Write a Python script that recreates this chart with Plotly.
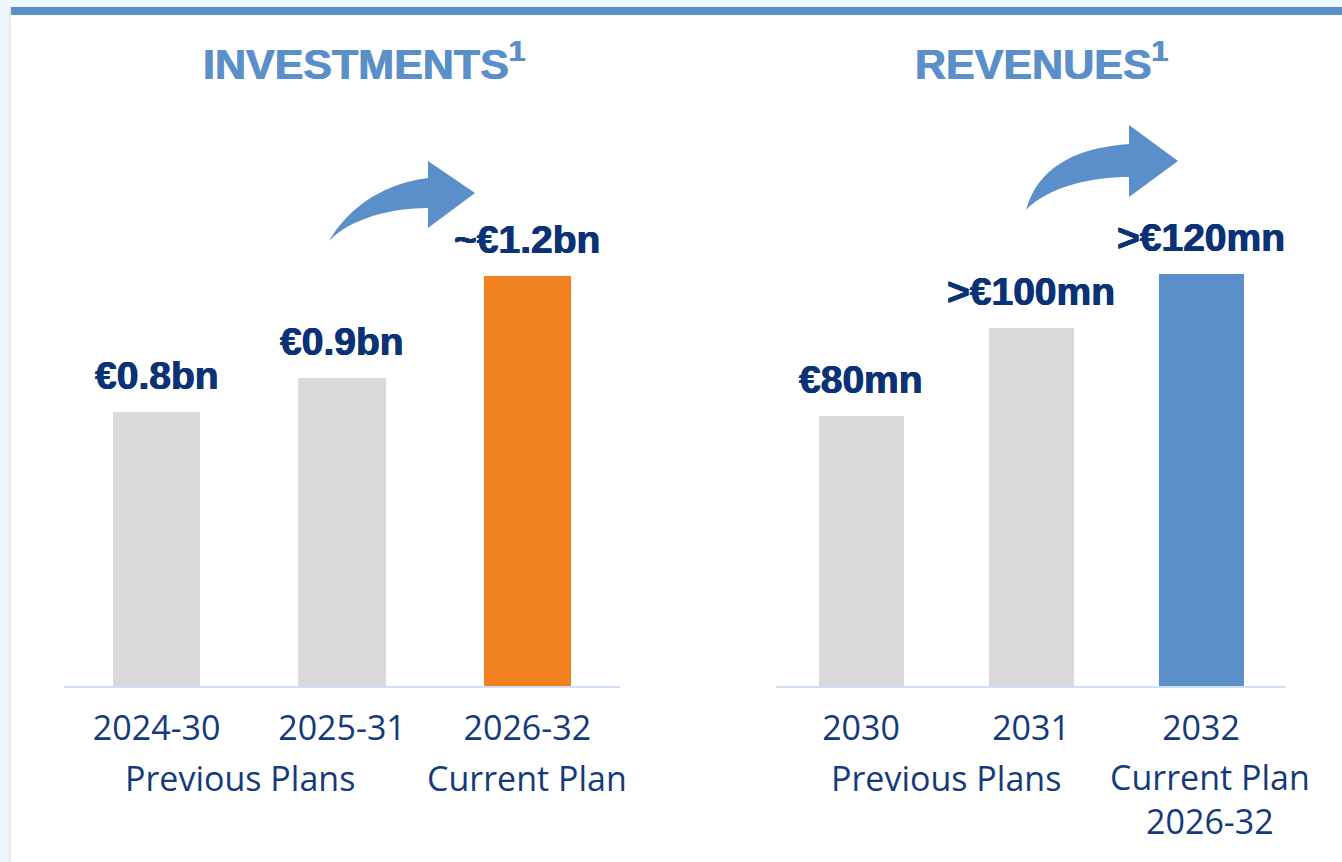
import plotly.graph_objects as go

# ---------------- data ----------------
inv_categories = ["2024-30", "2025-31", "2026-32"]
inv_values = [0.8, 0.9, 1.2]            # € bn
inv_labels = ["€0.8bn", "€0.9bn", "~€1.2bn"]
inv_colors = ["#D9D9D9", "#D9D9D9", "#F28220"]

rev_categories = ["2030", "2031", "2032"]
rev_values = [80, 106, 122]             # € mn (bar heights as drawn)
rev_labels = ["€80mn", ">€100mn", ">€120mn"]
rev_colors = ["#D9D9D9", "#D9D9D9", "#5B8FC9"]

inv_groups = ["Previous Plans", "Current Plan"]
rev_groups = ["Previous Plans", "Current Plan<br>2026-32"]

titles = ["INVESTMENTS", "REVENUES"]

# ---------------- layout helpers ----------------
W, H = 1342, 862
def px(x):
    return x / W
def py(y):
    return 1 - y / H

NAVY = "#0B3275"
CAT = "#143A7B"
BLUE = "#5B8FC9"
VALFONT = dict(family="Liberation Sans, Arial, sans-serif", size=39, color=NAVY,
               shadow=f"0.5px 0 0 {NAVY}, -0.5px 0 0 {NAVY}")
CATFONT = dict(family="Open Sans, sans-serif", size=34, color=CAT)

ydom = [py(686), py(100)]

fig = go.Figure()
fig.add_trace(go.Bar(x=inv_categories, y=inv_values, marker_color=inv_colors,
                     marker_line_width=0, width=0.47, xaxis="x", yaxis="y",
                     hoverinfo="skip"))
fig.add_trace(go.Bar(x=rev_categories, y=rev_values, marker_color=rev_colors,
                     marker_line_width=0, width=0.5, xaxis="x2", yaxis="y2",
                     hoverinfo="skip"))

axis_common = dict(type="category", showgrid=False, zeroline=False, ticks="", showline=True,
                   linecolor="#CFE0F6", linewidth=2,
                   tickfont=CATFONT, ticklabelstandoff=11, fixedrange=True)
yaxis_common = dict(showgrid=False, zeroline=False, showticklabels=False,
                    showline=False, ticks="", fixedrange=True)

fig.update_layout(
    width=W, height=H,
    margin=dict(l=0, r=0, t=0, b=0),
    paper_bgcolor="#EEF8FC",
    plot_bgcolor="rgba(0,0,0,0)",
    showlegend=False,
    bargap=0,
    xaxis=dict(domain=[px(64), px(620)], range=[-0.5, 2.5], anchor="y", **axis_common),
    yaxis=dict(domain=ydom, range=[0, 586 / 342], anchor="x", **yaxis_common),
    xaxis2=dict(domain=[px(776), px(1286)], range=[-0.5, 2.5], anchor="y2", **axis_common),
    yaxis2=dict(domain=ydom, range=[0, 586 / 3.375], anchor="x2", **yaxis_common),
)

shapes = []
# card background
shapes.append(dict(type="rect", xref="paper", yref="paper", x0=px(9), x1=px(11),
                   y0=0, y1=py(7), fillcolor="#E3EAEE", line_width=0, layer="below"))
shapes.append(dict(type="rect", xref="paper", yref="paper", x0=px(11), x1=1,
                   y0=0, y1=py(7), fillcolor="#FFFFFF", line_width=0, layer="below"))
shapes.append(dict(type="rect", xref="paper", yref="paper", x0=px(11), x1=1,
                   y0=py(15), y1=py(7), fillcolor=BLUE, line_width=0, layer="below"))

def arrow_path(pts):
    (tx, ty), c1, c2, (sx, sy_top), head_top, tip, head_bot, sy_bot, c3, c4 = pts
    def p(x, y):
        return f"{px(x):.5f},{py(y):.5f}"
    return (f"M {p(tx, ty)} C {p(*c1)} {p(*c2)} {p(sx, sy_top)} "
            f"L {p(sx, head_top)} L {p(*tip)} L {p(sx, head_bot)} L {p(sx, sy_bot)} "
            f"C {p(*c3)} {p(*c4)} {p(tx, ty)} Z")

left_arrow = arrow_path([(329, 241), (345, 214), (375, 185), (428, 178), 161, (475, 193),
                         228, 208, (390, 208), (350, 219)])
right_arrow = arrow_path([(1026, 210), (1037, 171), (1070, 148), (1129, 144), 125, (1178, 161),
                          197, 177, (1090, 177), (1048, 187)])
for path in (left_arrow, right_arrow):
    shapes.append(dict(type="path", xref="paper", yref="paper", path=path,
                       fillcolor=BLUE, line_width=0, layer="above"))
fig.update_layout(shapes=shapes)

ann = []
# titles
TITLEFONT = dict(family="Liberation Sans, Arial, sans-serif", size=43, color=BLUE,
                 shadow=f"0.5px 0 0 {BLUE}, -0.5px 0 0 {BLUE}")
for t, x0 in zip(titles, [201, 913]):
    ann.append(dict(text=f"<b>{t}</b><sup><b>1</b></sup>", xref="paper", yref="paper",
                    x=px(x0), y=py(61), xanchor="left", yanchor="middle", showarrow=False,
                    font=TITLEFONT))
# value labels
for vals, labs, xr, yr in [(inv_values, inv_labels, "x", "y"),
                           (rev_values, rev_labels, "x2", "y2")]:
    for i, (v, l) in enumerate(zip(vals, labs)):
        ann.append(dict(text=f"<b>{l}</b>", x=i, y=v, xref=xr, yref=yr, xanchor="center",
                        yanchor="bottom", yshift=13, showarrow=False, font=VALFONT))
# group labels
inv_group_pos = [(0.45, "middle", 92), (2.0, "middle", 92)]
rev_group_pos = [(0.5, "middle", 92), (2.05, "top", 66)]
for txt, (gx, ya, dy) in zip(inv_groups, inv_group_pos):
    ann.append(dict(text=txt, x=gx, y=0, xref="x", yref="y domain", yshift=-dy,
                    xanchor="center", yanchor=ya, showarrow=False, font=CATFONT))
for txt, (gx, ya, dy) in zip(rev_groups, rev_group_pos):
    ann.append(dict(text=txt, x=gx, y=0, xref="x2", yref="y2 domain", yshift=-dy,
                    xanchor="center", yanchor=ya, showarrow=False, font=CATFONT))
fig.update_layout(annotations=ann)

fig.write_html("out.html", config={"displayModeBar": False},
               post_script="document.body.style.margin='0';document.body.style.overflow='hidden';")
